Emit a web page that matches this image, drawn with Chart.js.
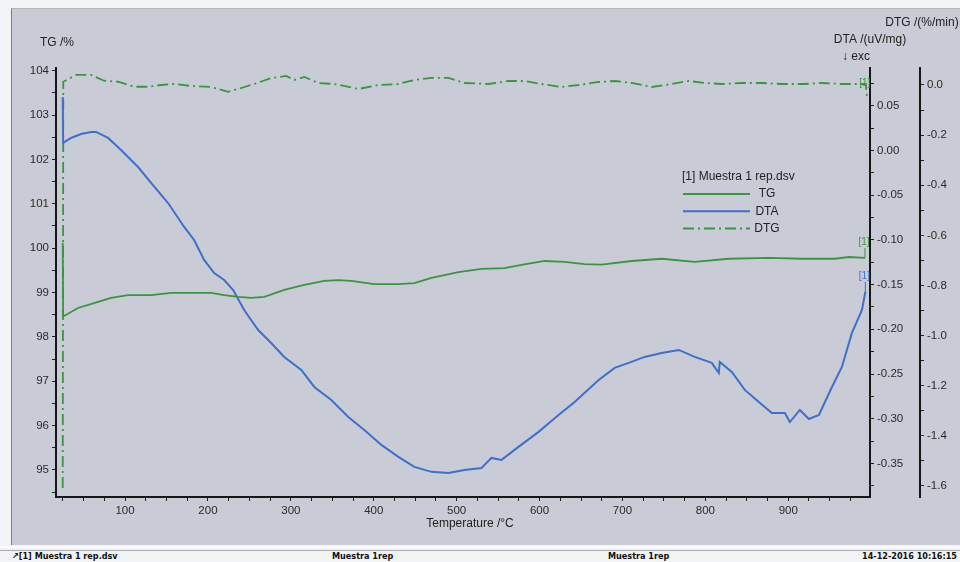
<!DOCTYPE html>
<html>
<head>
<meta charset="utf-8">
<script src="https://cdn.jsdelivr.net/npm/chart.js@4.4.1/dist/chart.umd.min.js"></script>
<style>
  body { margin: 0; width: 960px; height: 562px; background: #f2f3f5; position: relative; overflow: hidden; font-family: "Liberation Sans", Arial, sans-serif; }
  #panel { position: absolute; left: 11px; top: 8px; width: 948px; height: 536px; background: #c9ccd6; border-left: 1px solid #7c7e84; border-top: 1px solid #b4b7bd; }
  #footer { position: absolute; left: 0; top: 546px; width: 960px; height: 16px; border-top: 2px solid #fbfbfb; }
  #footer div { position: absolute; top: 2px; height: 14px; border-top: 1px solid #a9acb2; width: 100%; }
  #footer span { position: absolute; top: 3px; font: bold 9px "Liberation Sans Narrow", "DejaVu Sans Condensed", Arial, sans-serif; color: #111; white-space: nowrap; }
</style>
</head>
<body>
<div id="panel"><canvas id="tga" width="948" height="536"></canvas></div>
<div id="footer"><div></div>
  <span style="left:12px">↗[1] Muestra 1 rep.dsv</span>
  <span style="left:332px">Muestra 1rep</span>
  <span style="left:608px">Muestra 1rep</span>
  <span style="right:3px">14-12-2016 10:16:15</span>
</div>
<script>
// TG curve, mass %
const tgTemp = [24.8, 25.3, 43.2, 62.6, 83.1, 103.6, 131.4, 155.6, 179.7, 203.9, 219.6, 236.5, 252.2, 267.9, 292.0, 316.2, 340.3, 357.2, 373.0, 400.7, 429.7, 449.0, 469.6, 502.2, 530.0, 557.7, 578.3, 606.0, 630.2, 654.3, 674.9, 711.1, 747.3, 787.2, 828.3, 876.6, 916.4, 956.3, 973.2, 992.5]
const tgValues = [100.12, 98.46, 98.65, 98.76, 98.88, 98.94, 98.94, 98.99, 98.99, 98.99, 98.94, 98.90, 98.88, 98.90, 99.06, 99.17, 99.26, 99.28, 99.26, 99.19, 99.19, 99.21, 99.33, 99.46, 99.53, 99.55, 99.62, 99.71, 99.69, 99.64, 99.63, 99.71, 99.76, 99.69, 99.76, 99.78, 99.76, 99.76, 99.80, 99.78]

// DTA curve, uV/mg
const dtaTemp = [24.8, 25.3, 34.8, 46.9, 58.9, 65.0, 79.5, 95.2, 115.7, 131.4, 151.9, 171.3, 183.3, 195.4, 207.5, 219.6, 230.4, 243.7, 260.6, 276.3, 292.0, 312.6, 328.3, 348.8, 369.3, 388.6, 409.2, 429.7, 449.0, 469.6, 490.1, 509.4, 530.0, 542.0, 554.1, 574.6, 598.8, 622.9, 642.3, 671.3, 690.6, 707.5, 726.8, 747.3, 767.9, 787.2, 807.7, 816.2, 817.4, 831.9, 847.6, 864.5, 880.2, 895.9, 901.9, 914.0, 924.9, 937.0, 952.7, 964.7, 976.8, 988.9, 993.0]
const dtaValues = [0.0597, 0.0083, 0.0139, 0.0183, 0.0206, 0.0206, 0.0139, 0.0004, -0.0186, -0.0364, -0.0588, -0.0856, -0.1002, -0.1225, -0.1371, -0.1449, -0.1561, -0.1784, -0.2008, -0.2153, -0.2310, -0.2455, -0.2645, -0.2790, -0.2980, -0.3126, -0.3293, -0.3427, -0.3538, -0.3594, -0.3606, -0.3572, -0.3550, -0.3438, -0.3460, -0.3315, -0.3147, -0.2958, -0.2813, -0.2567, -0.2432, -0.2376, -0.2309, -0.2265, -0.2231, -0.2309, -0.2376, -0.2488, -0.2365, -0.2476, -0.2678, -0.2813, -0.2936, -0.2936, -0.3037, -0.2902, -0.3003, -0.2958, -0.2645, -0.2421, -0.2041, -0.1783, -0.1582]

// DTG curve, %/min
const dtgTemp = [24.8, 25.5, 40.8, 58.9, 74.6, 91.5, 110.9, 127.8, 143.5, 159.2, 179.7, 203.9, 224.4, 240.1, 255.8, 276.3, 294.4, 304.1, 316.2, 333.1, 352.4, 381.4, 405.6, 429.7, 449.0, 469.6, 490.1, 509.4, 538.4, 562.6, 581.9, 602.4, 626.6, 647.1, 671.3, 690.6, 711.1, 735.3, 759.4, 779.9, 799.3, 819.8, 844.0, 868.1, 892.3, 920.0, 940.6, 964.7, 993.5, 995.0]
const dtgValues = [-1.608, 0.013, 0.040, 0.040, 0.017, 0.013, -0.007, -0.007, 0.000, 0.004, -0.004, -0.008, -0.027, -0.012, 0.004, 0.028, 0.036, 0.020, 0.032, 0.008, 0.004, -0.016, 0.000, 0.004, 0.020, 0.028, 0.028, 0.008, 0.004, 0.016, 0.016, 0.004, -0.008, 0.000, 0.012, 0.016, 0.008, -0.008, 0.004, 0.016, 0.008, 0.004, 0.008, 0.008, 0.004, 0.004, 0.008, 0.004, 0.004, -0.050]

// labelled ticks on each axis
const tempLabels = [100, 200, 300, 400, 500, 600, 700, 800, 900]
const tgLabels = [95, 96, 97, 98, 99, 100, 101, 102, 103, 104]
const dtaLabels = [0.05, 0.00, -0.05, -0.10, -0.15, -0.20, -0.25, -0.30, -0.35]
const dtgLabels = [0.0, -0.2, -0.4, -0.6, -0.8, -1.0, -1.2, -1.4, -1.6]

const fontFamily = '"Liberation Sans", Arial, sans-serif'
const green = 'rgb(58, 150, 62)'
const blue = 'rgb(62, 112, 200)'

function points(xs, ys) {
  return xs.map((x, i) => ({ x: x, y: ys[i] }))
}

// minor + major tick values from first to last
function tickRange(first, last, step) {
  let out = []
  let n = Math.round((last - first) / step)
  for (let i = 0; i <= n; i++) out.push(+(first + i * step).toFixed(6))
  return out
}

function axis(position, min, max, tickVals, labels, digits, width) {
  return {
    type: 'linear',
    position: position,
    min: min,
    max: max,
    afterBuildTicks: s => { s.ticks = tickVals.map(v => ({ value: v })) },
    afterFit: s => { s.width = width },
    ticks: {
      autoSkip: false,
      padding: 3,
      color: '#2a2a2a',
      font: { family: fontFamily, size: 11.5 },
      callback: v => {
        let m = labels.find(t => Math.abs(t - v) < 1e-6)
        return m === undefined ? '' : m.toFixed(digits)
      }
    },
    grid: { drawOnChartArea: false, tickLength: 4, color: '#1e1e1e' },
    border: { color: '#161616', width: 2 }
  }
}

const decorations = {
  id: 'decorations',
  afterDraw(chart) {
    const { ctx, chartArea, scales } = chart
    ctx.save()
    ctx.fillStyle = '#222'
    ctx.font = '12px ' + fontFamily
    ctx.textBaseline = 'middle'

    // axis titles
    ctx.textAlign = 'left'
    ctx.fillText('TG /%', chartArea.left - 16, chartArea.top - 25)
    ctx.textAlign = 'center'
    ctx.fillText('DTA /(uV/mg)', scales.yDTA.left, chartArea.top - 28)
    ctx.fillText('↓ exc', scales.yDTA.left - 14, chartArea.top - 11)
    ctx.fillText('DTG /(%/min)', scales.yDTG.left + 2, chartArea.top - 45)
    ctx.fillText('Temperature /°C', (chartArea.left + chartArea.right) / 2 + 7, chartArea.bottom + 27)

    // legend
    const lx = 670, ly = 168
    ctx.textAlign = 'left'
    ctx.fillText('[1] Muestra 1 rep.dsv', lx, ly)
    chart.data.datasets.forEach((ds, i) => {
      let y = ly + 17 + i * 17.2
      ctx.strokeStyle = ds.borderColor
      ctx.lineWidth = 2
      ctx.setLineDash(ds.borderDash || [])
      ctx.beginPath()
      ctx.moveTo(lx + 1, y)
      ctx.lineTo(lx + 68, y)
      ctx.stroke()
      ctx.textAlign = 'center'
      ctx.fillText(ds.label, lx + 85, y)
    })
    ctx.setLineDash([])

    // [1] tags at the curve ends
    ctx.font = '10px ' + fontFamily
    chart.data.datasets.forEach((ds, i) => {
      let pts = chart.getDatasetMeta(i).data
      ctx.fillStyle = ds.borderColor
      ctx.strokeStyle = ds.borderColor
      ctx.lineWidth = 1
      if (ds.tagAbove) {
        let p = pts[pts.length - 1]
        ctx.beginPath()
        ctx.moveTo(p.x, p.y)
        ctx.lineTo(p.x, p.y - 10)
        ctx.stroke()
        ctx.fillText('[1]', p.x - 1, p.y - 16)
      } else {
        let p = pts[pts.length - 2]
        ctx.fillText('[1]', p.x - 1, p.y - 1)
      }
    })
    ctx.restore()
  }
}

new Chart(document.getElementById('tga'), {
  type: 'line',
  data: {
    datasets: [
      { label: 'TG', data: points(tgTemp, tgValues), yAxisID: 'yTG', borderColor: green, borderWidth: 1.8, tagAbove: true },
      { label: 'DTA', data: points(dtaTemp, dtaValues), yAxisID: 'yDTA', borderColor: blue, borderWidth: 2, tagAbove: true },
      { label: 'DTG', data: points(dtgTemp, dtgValues), yAxisID: 'yDTG', borderColor: green, borderWidth: 1.8, borderDash: [11, 4, 2, 4], tagAbove: false }
    ]
  },
  options: {
    responsive: false,
    animation: false,
    layout: { padding: { top: 59, left: 0, right: 0, bottom: 0 } },
    elements: { point: { radius: 0 }, line: { tension: 0, fill: false } },
    plugins: { legend: { display: false }, tooltip: { enabled: false } },
    scales: {
      x: {
        type: 'linear',
        position: 'bottom',
        min: 16.7,
        max: 998.6,
        afterBuildTicks: s => { s.ticks = tickRange(25, 975, 25).map(v => ({ value: v })) },
        afterFit: s => { s.height = 48 },
        ticks: {
          autoSkip: false,
          maxRotation: 0,
          padding: 3,
          color: '#2a2a2a',
          font: { family: fontFamily, size: 11.5 },
          callback: v => tempLabels.includes(v) ? String(v) : ''
        },
        grid: { drawOnChartArea: false, tickLength: 4, color: '#1e1e1e' },
        border: { color: '#161616', width: 2 }
      },
      yTG: axis('left', 94.39, 104.06, tickRange(94.5, 104, 0.5), tgLabels, 0, 44),
      yDTA: Object.assign(axis('right', -0.3875, 0.0921, tickRange(-0.375, 0.075, 0.025), dtaLabels, 2, 50), { weight: 0 }),
      yDTG: Object.assign(axis('right', -1.644, 0.0678, tickRange(-1.6, 0.0, 0.1), dtgLabels, 1, 40), { weight: 1 })
    }
  },
  plugins: [decorations]
})
</script>
</body>
</html>
